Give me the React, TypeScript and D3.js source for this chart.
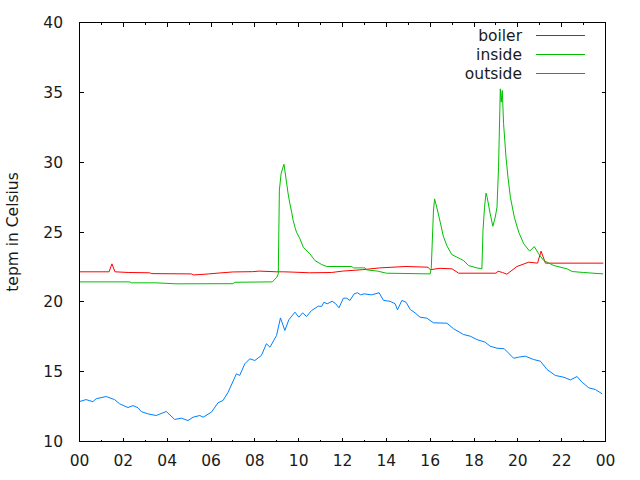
import React from "react";
import * as d3 from "d3";

const xTickLabels = ["00", "02", "04", "06", "08", "10", "12", "14", "16", "18", "20", "22", "00"];
const yTicks = [10, 15, 20, 25, 30, 35, 40];
const seriesNames = ["boiler", "inside", "outside"];
const seriesColors = ["#ff0000", "#00c000", "#0080ff"];

// [hour, temperature]
const boiler: [number, number][] = [
  [0, 22.15], [1.35, 22.15], [1.48, 22.72], [1.62, 22.15], [2.25, 22.1], [3.2, 22.08], [3.3, 22.02],
  [5.1, 22.0], [5.2, 21.93], [5.5, 21.95], [5.9, 22.0], [6.5, 22.08], [7.0, 22.14], [7.9, 22.16],
  [8.2, 22.2], [9, 22.15], [9.3, 22.15], [9.7, 22.13], [10.5, 22.08], [11.5, 22.1], [12, 22.2],
  [12.9, 22.3], [13.7, 22.43], [14.9, 22.53], [15.9, 22.48], [16, 22.3], [16.45, 22.4], [17.0, 22.36],
  [17.3, 22.05], [19.0, 22.05], [19.1, 22.19], [19.3, 22.1], [19.5, 21.98], [19.96, 22.53],
  [20.5, 22.84], [20.9, 22.77], [21.06, 23.63], [21.26, 22.77], [23.9, 22.77],
];

const inside: [number, number][] = [
  [0, 21.43], [2.3, 21.43], [2.36, 21.36], [3.5, 21.36], [4.4, 21.29], [7.0, 21.3], [7.1, 21.4],
  [8.8, 21.43], [9.0, 21.76], [9.07, 22.0], [9.12, 28.0], [9.2, 29.2], [9.33, 29.85], [9.45, 28.5],
  [9.52, 27.73], [9.6, 27.02], [9.68, 26.42], [9.75, 25.82], [9.83, 25.35], [9.9, 24.99],
  [10.06, 24.51], [10.21, 23.91], [10.51, 23.44], [10.74, 22.96], [11.05, 22.67], [11.28, 22.53],
  [12.42, 22.53], [12.5, 22.43], [13.03, 22.43], [13.1, 22.29], [13.6, 22.2], [14.0, 22.05],
  [16.0, 22.0], [16.05, 22.4], [16.15, 26.5], [16.2, 27.37], [16.3, 26.78], [16.46, 25.7],
  [16.6, 24.7], [16.76, 24.03], [16.99, 23.38], [17.22, 23.2], [17.37, 23.08], [17.52, 22.96],
  [17.75, 22.6], [18.13, 22.43], [18.36, 22.36], [18.41, 25.1], [18.48, 26.78], [18.55, 27.78],
  [18.6, 27.49], [18.74, 26.3], [18.86, 25.41], [18.97, 26.06], [19.05, 26.78], [19.12, 29.64],
  [19.2, 35.25], [19.24, 34.3], [19.29, 35.13], [19.35, 32.75], [19.46, 30.36], [19.55, 28.92],
  [19.66, 27.49], [19.84, 26.06], [20.04, 24.99], [20.27, 24.15], [20.54, 23.63], [20.75, 23.96],
  [20.95, 23.44], [21.18, 22.96], [21.64, 22.6], [22.25, 22.36], [22.48, 22.17], [23.0, 22.1],
  [23.89, 22.0],
];

const outside: [number, number][] = [
  [0, 12.86], [0.3, 13.0], [0.61, 12.85], [0.76, 13.06], [1.22, 13.22], [1.6, 13.0], [1.83, 12.7],
  [2.21, 12.43], [2.44, 12.57], [2.67, 12.41], [2.82, 12.14], [3.12, 11.98], [3.5, 11.86],
  [3.96, 12.15], [4.34, 11.58], [4.65, 11.67], [4.95, 11.5], [5.18, 11.74], [5.49, 11.86],
  [5.64, 11.74], [6.02, 12.1], [6.32, 12.77], [6.55, 12.94], [6.78, 13.53], [7.16, 14.85],
  [7.31, 14.73], [7.54, 15.56], [7.77, 15.92], [8.0, 15.8], [8.3, 16.16], [8.53, 17.0],
  [8.69, 16.75], [8.99, 17.59], [9.17, 18.85], [9.37, 17.95], [9.55, 18.71], [9.83, 19.26],
  [10.01, 18.9], [10.18, 19.21], [10.36, 18.95], [10.59, 19.38], [10.9, 19.69], [11.05, 19.67],
  [11.15, 19.97], [11.3, 19.86], [11.53, 20.04], [11.69, 19.86], [11.84, 19.57], [12.04, 20.26],
  [12.19, 20.26], [12.34, 20.1], [12.53, 20.57], [12.68, 20.65], [12.83, 20.5], [12.98, 20.57],
  [13.33, 20.5], [13.67, 20.65], [13.87, 20.1], [14.17, 20.04], [14.4, 19.86], [14.51, 19.43],
  [14.71, 20.1], [14.9, 19.97], [15.09, 19.45], [15.31, 19.21], [15.54, 18.9], [15.85, 18.83],
  [16.15, 18.5], [16.76, 18.47], [17.07, 18.07], [17.52, 17.66], [17.83, 17.54], [18.13, 17.3],
  [18.51, 17.11], [18.74, 16.82], [19.05, 16.68], [19.38, 16.64], [19.81, 15.96], [20.04, 16.04],
  [20.34, 16.11], [20.72, 15.87], [21.03, 15.75], [21.33, 15.16], [21.71, 14.73], [22.1, 14.6],
  [22.4, 14.41], [22.7, 14.65], [22.93, 14.25], [23.24, 13.84], [23.54, 13.72], [23.85, 13.41],
];

const W = 640;
const H = 480;
const left = 79.5;
const right = 605.5;
const top = 22.5;
const bottom = 441.5;
const font = "'DejaVu Sans', sans-serif";
const textColor = "#1a1a1a";

export default function App() {
  const x = d3.scaleLinear().domain([0, 24]).range([left, right]);
  const y = d3.scaleLinear().domain([10, 40]).range([bottom, top]);
  const line = d3
    .line<[number, number]>()
    .x((d) => x(d[0]))
    .y((d) => y(d[1]));
  const series = [boiler, inside, outside];
  const hours = d3.range(0, 25, 1);

  return (
    <svg
      width={W}
      height={H}
      style={{ position: "fixed", left: 0, top: 0, background: "#fff" }}
      fontFamily={font}
    >
      <rect x={0} y={0} width={W} height={H} fill="#fff" />
      {series.map((s, i) => (
        <path key={i} d={line(s) || ""} fill="none" stroke={seriesColors[i]} strokeWidth={1} />
      ))}
      <rect x={left} y={top} width={right - left} height={bottom - top} fill="none" stroke="#000" strokeWidth={1} shapeRendering="crispEdges" />
      {hours.map((h) => {
        const major = h % 2 === 0;
        const len = major ? 4 : 2;
        const px = Math.round(x(h) - 0.5) + 0.5;
        return (
          <g key={h} shapeRendering="crispEdges">
            <line x1={px} x2={px} y1={bottom} y2={bottom - len} stroke="#000" />
            <line x1={px} x2={px} y1={top} y2={top + len} stroke="#000" />
          </g>
        );
      })}
      {xTickLabels.map((t, i) => (
        <text key={i} x={x(i * 2)} y={466} textAnchor="middle" fontSize={15.5} fill={textColor}>
          {t}
        </text>
      ))}
      {yTicks.map((v) => {
        const py = Math.round(y(v) - 0.5) + 0.5;
        return (
          <g key={v}>
            <line x1={left} x2={left + 4} y1={py} y2={py} stroke="#000" shapeRendering="crispEdges" />
            <line x1={right} x2={right - 4} y1={py} y2={py} stroke="#000" shapeRendering="crispEdges" />
            <text x={63} y={y(v) + 5.5} textAnchor="end" fontSize={15.5} fill={textColor}>
              {v}
            </text>
          </g>
        );
      })}
      <text
        transform={`translate(18, ${(top + bottom) / 2}) rotate(-90)`}
        textAnchor="middle"
        fontSize={15.5}
        fill={textColor}
      >
        tepm in Celsius
      </text>
      {seriesNames.map((n, i) => {
        const ly = 35 + i * 19;
        return (
          <g key={n}>
            <text x={522} y={ly + 5.5} textAnchor="end" fontSize={15.5} fill={textColor}>
              {n}
            </text>
            <line x1={536} x2={585} y1={ly + 0.5} y2={ly + 0.5} stroke={seriesColors[i]} shapeRendering="crispEdges" />
          </g>
        );
      })}
    </svg>
  );
}
